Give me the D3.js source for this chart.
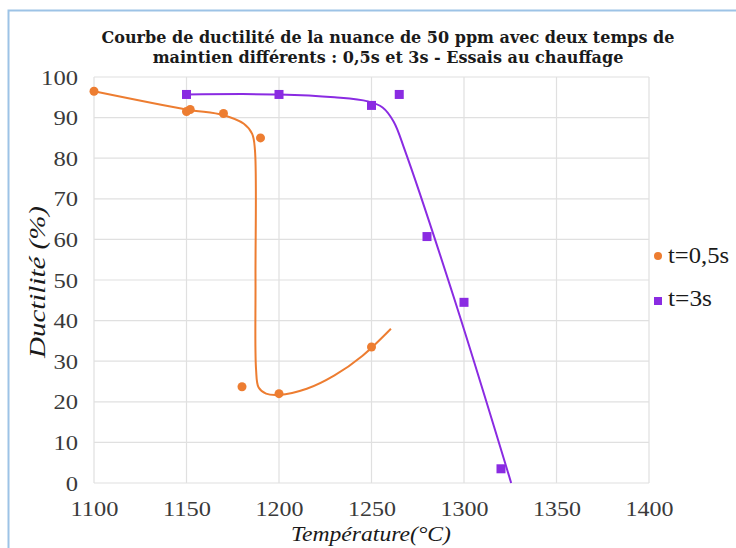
<!DOCTYPE html>
<html>
<head>
<meta charset="utf-8">
<script src="https://cdn.jsdelivr.net/npm/d3@7"></script>
<style>
  body { margin: 0; background: #fff; }
  svg { display: block; }
</style>
</head>
<body>
<svg id="chart" width="736" height="548"></svg>
<script>
// measured points
var temps_05 = [1100, 1150, 1152, 1170, 1190, 1180, 1200, 1250];
var duct_05  = [96.5, 91.5, 92, 91, 85, 23.7, 22, 33.5];
var temps_3  = [1150, 1200, 1250, 1265, 1280, 1300, 1320];
var duct_3   = [95.7, 95.7, 93, 95.7, 60.7, 44.5, 3.5];

// hand-drawn trend curves
var curve_05_x = [1100, 1150, 1170, 1181, 1185.5, 1187, 1187.3, 1187.6, 1189, 1193, 1200, 1215, 1230, 1245, 1260.5];
var curve_05_y = [96.5, 92, 90.6, 88.5, 86, 82, 50, 28, 23.5, 22, 21.7, 23.2, 26.5, 31.3, 38];
var curve_3_x  = [1150, 1200, 1230, 1248, 1256, 1262, 1268, 1295, 1325.5];
var curve_3_y  = [95.7, 95.7, 95, 94, 92.5, 89, 82, 45, 0];

var x_ticks = [1100, 1150, 1200, 1250, 1300, 1350, 1400];
var y_ticks = [0, 10, 20, 30, 40, 50, 60, 70, 80, 90, 100];
var series_names = ['t=0,5s', 't=3s'];
var title_lines = ['Courbe de ductilité  de la nuance de 50 ppm avec deux temps de',
                   'maintien  différents : 0,5s et 3s - Essais au chauffage'];

var ORANGE = '#ed7d31';
var PURPLE = '#8a2be2';
var FONT = '"Liberation Serif", serif';
var TITLE_FONT = '"DejaVu Serif", serif';

var svg = d3.select('#chart');

// frame
svg.append('path')
	.attr('d', 'M8.5,548 L8.5,10.5 L736,10.5')
	.attr('fill', 'none')
	.attr('stroke', '#9dc3e6')
	.attr('stroke-width', 2);

var x = d3.scaleLinear().domain([1100, 1400]).range([94, 649]);
var y = d3.scaleLinear().domain([0, 100]).range([483, 77]);

// grid
svg.append('g').selectAll('line').data(x_ticks).join('line')
	.attr('x1', d => x(d)).attr('x2', d => x(d))
	.attr('y1', y(0)).attr('y2', y(100))
	.attr('stroke', '#e0e0e0').attr('stroke-width', 1.2);
svg.append('g').selectAll('line').data(y_ticks).join('line')
	.attr('x1', x(1100)).attr('x2', x(1400))
	.attr('y1', d => y(d)).attr('y2', d => y(d))
	.attr('stroke', '#e0e0e0').attr('stroke-width', 1.2);

// axes
var x_axis = svg.append('g')
	.attr('transform', 'translate(0,' + y(0) + ')')
	.call(d3.axisBottom(x).tickValues(x_ticks).tickSize(0).tickPadding(17).tickFormat(d3.format('d')));
var y_axis = svg.append('g')
	.attr('transform', 'translate(' + x(1100) + ',0)')
	.call(d3.axisLeft(y).tickValues(y_ticks).tickSize(0).tickPadding(16));
[x_axis, y_axis].forEach(function(a) {
	a.select('.domain').remove();
	a.attr('font-family', null).attr('font-size', null);
	a.selectAll('text').style('font-family', FONT).style('font-size', '22px').attr('fill', '#3a3a3a');
});
x_axis.selectAll('text').attr('textLength', 48).attr('lengthAdjust', 'spacingAndGlyphs');
y_axis.selectAll('text').attr('textLength', d => String(d).length * 12.3).attr('lengthAdjust', 'spacingAndGlyphs');

// curves
var line = d3.line().x(d => x(d[0])).y(d => y(d[1])).curve(d3.curveCatmullRom.alpha(0.5));
svg.append('path')
	.datum(d3.zip(curve_05_x, curve_05_y))
	.attr('d', line)
	.attr('fill', 'none').attr('stroke', ORANGE).attr('stroke-width', 2);
svg.append('path')
	.datum(d3.zip(curve_3_x, curve_3_y))
	.attr('d', line)
	.attr('fill', 'none').attr('stroke', PURPLE).attr('stroke-width', 2);

// markers
svg.append('g').selectAll('circle').data(d3.zip(temps_05, duct_05)).join('circle')
	.attr('cx', d => x(d[0])).attr('cy', d => y(d[1])).attr('r', 4.5)
	.attr('fill', ORANGE);
svg.append('g').selectAll('rect').data(d3.zip(temps_3, duct_3)).join('rect')
	.attr('x', d => x(d[0]) - 4.5).attr('y', d => y(d[1]) - 4.5)
	.attr('width', 9).attr('height', 9)
	.attr('fill', PURPLE);

// title
svg.append('g').selectAll('text').data(title_lines).join('text')
	.attr('x', 388).attr('y', (d, i) => 43 + i * 20)
	.attr('text-anchor', 'middle')
	.style('font-family', TITLE_FONT).attr('font-weight', 'bold').style('font-size', '16px')
	.attr('fill', '#1a1a1a')
	.text(d => d);

// axis titles
svg.append('text')
	.attr('x', 371).attr('y', 541)
	.attr('text-anchor', 'middle')
	.style('font-family', FONT).attr('font-style', 'italic').style('font-size', '22px')
	.attr('fill', '#1a1a1a')
	.attr('textLength', 160).attr('lengthAdjust', 'spacingAndGlyphs')
	.text('Température(°C)');
svg.append('text')
	.attr('transform', 'translate(45,282) rotate(-90)')
	.attr('text-anchor', 'middle')
	.style('font-family', FONT).attr('font-style', 'italic').style('font-size', '23px')
	.attr('fill', '#1a1a1a')
	.attr('textLength', 152).attr('lengthAdjust', 'spacingAndGlyphs')
	.text('Ductilité (%)');

// legend
var legend = svg.append('g');
legend.append('circle').attr('cx', 658).attr('cy', 256).attr('r', 4).attr('fill', ORANGE);
legend.append('rect').attr('x', 654).attr('y', 297).attr('width', 8).attr('height', 8).attr('fill', PURPLE);
legend.selectAll('text').data(series_names).join('text')
	.attr('x', 668).attr('y', (d, i) => 263 + i * 43)
	.style('font-family', FONT).style('font-size', '23px')
	.attr('fill', '#1a1a1a')
	.attr('textLength', (d, i) => [61, 44][i]).attr('lengthAdjust', 'spacingAndGlyphs')
	.text(d => d);
</script>
</body>
</html>
